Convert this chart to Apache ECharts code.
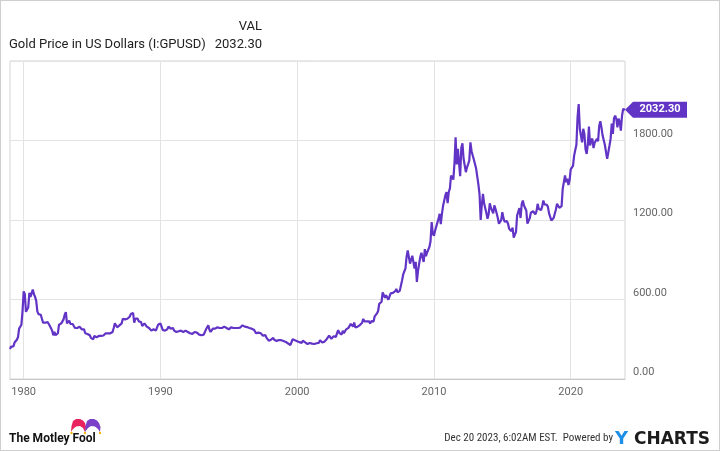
<!DOCTYPE html>
<html>
<head>
<meta charset="utf-8">
<script src="https://cdn.jsdelivr.net/npm/echarts@6/dist/echarts.min.js"></script>
<style>
html,body{margin:0;padding:0;background:#fff;}
#c{width:720px;height:451px;box-sizing:border-box;border:1px solid #cfcfcf;}
</style>
</head>
<body>
<div id="c"></div>
<script>
// Monthly gold price (USD/oz), one value per month starting Jan of the first year
const startYear = 1979;
const gold1979_1983 = [
  227,245,240,246,275,278,296,315,380,382,410,512,
  662,640,507,520,540,650,620,630,675,640,620,590,
  510,490,500,485,475,425,410,425,430,430,415,400,
  385,365,330,355,330,315,345,410,400,420,435,450,
  485,505,420,430,440,415,420,415,405,385,380,385
];
const gold1984_1988 = [
  370,395,395,375,385,375,345,350,340,335,330,310,
  305,299,325,320,315,320,325,335,325,325,328,327,
  345,340,345,345,345,345,355,385,420,405,390,395,
  405,405,420,455,460,450,460,455,460,470,490,490,
  499,425,455,450,455,435,435,430,400,410,420,410
];
const gold1989_1993 = [
  395,385,385,375,365,370,375,360,365,375,410,410,
  420,410,370,370,365,352,375,395,395,380,385,385,
  365,360,355,355,360,365,365,350,355,355,365,355,
  355,350,345,335,340,345,355,340,350,340,335,333,
  330,330,335,355,375,375,405,372,355,370,380,390
];
const gold1994_1998 = [
  380,382,390,375,385,385,385,385,395,385,385,383,
  375,375,390,390,385,385,385,385,385,383,388,387,
  405,400,395,392,392,383,385,388,380,380,372,368,
  345,360,350,342,345,335,326,326,332,312,298,289,
  303,297,300,310,294,296,288,273,294,292,293,288
];
const gold1999_2003 = [
  287,287,280,286,268,262,255,255,300,300,292,288,
  285,292,278,274,273,289,276,276,273,264,270,272,
  265,267,257,264,267,270,266,273,293,280,275,278,
  282,296,302,308,327,318,304,312,323,317,318,347,
  368,347,335,336,364,346,354,375,384,386,396,416
];
const gold2004_2008 = [
  402,396,427,388,394,395,391,407,415,425,454,435,
  422,435,427,435,418,437,429,433,473,470,495,513,
  568,556,582,654,643,613,633,623,599,604,646,632,
  650,665,663,680,655,650,665,672,743,789,783,834,
  923,971,984,871,885,930,918,833,884,733,815,870
];
const gold2009_2013 = [
  920,952,916,884,980,927,955,955,996,1040,1184,1100,
  1081,1119,1113,1180,1208,1247,1169,1246,1307,1346,1386,1410,
  1327,1411,1439,1536,1536,1505,1628,1824,1620,1737,1747,1531,
  1744,1779,1662,1651,1561,1598,1622,1648,1786,1719,1726,1657,
  1664,1588,1598,1469,1394,1200,1314,1398,1326,1324,1253,1210
];
const gold2014_2018 = [
  1244,1326,1291,1288,1250,1310,1285,1285,1217,1172,1175,1199,
  1259,1214,1187,1180,1191,1172,1134,1135,1115,1142,1067,1060,
  1111,1235,1233,1290,1215,1320,1347,1309,1322,1272,1173,1159,
  1212,1255,1245,1266,1268,1242,1267,1322,1283,1271,1275,1303,
  1347,1318,1325,1315,1299,1250,1224,1197,1187,1215,1222,1279
];
const gold2019_2023 = [
  1322,1316,1292,1284,1305,1436,1427,1536,1485,1511,1464,1498,
  1582,1585,1608,1686,1728,1768,1975,2075,1887,1880,1786,1888,
  1850,1734,1699,1769,1906,1763,1799,1815,1743,1783,1775,1812,
  1795,1909,1945,1897,1837,1824,1766,1711,1661,1649,1760,1812,
  1928,1850,1969,1987,1963,1899,1965,1940,1874,1984,2038
];
const lastDate = 2023.97;   // Dec 20 2023
const lastValue = 2032.30;

const xTickYears = [1980, 1990, 2000, 2010, 2020];

const allMonthly = [].concat(gold1979_1983, gold1984_1988, gold1989_1993, gold1994_1998,
  gold1999_2003, gold2004_2008, gold2009_2013, gold2014_2018, gold2019_2023);
const seriesData = allMonthly.map((v, i) => [startYear + i / 12, v]);
seriesData.push([lastDate, lastValue]);

const purple = '#6234c6';
const chart = echarts.init(document.getElementById('c'), null, {renderer: 'canvas'});
chart.setOption({
  animation: false,
  backgroundColor: '#fff',
  grid: {left: 9, top: 60, width: 615, height: 318, show: true, borderColor: '#d4d4d4', borderWidth: 1},
  xAxis: {
    type: 'value', min: startYear, max: lastDate,
    axisLine: {show: true, lineStyle: {color: '#c8c8c8', width: 1}},
    axisTick: {show: false, customValues: xTickYears},
    axisLabel: {customValues: xTickYears, color: '#666', fontSize: 11, fontFamily: 'Roboto', margin: 8,
      formatter: v => String(Math.round(v))},
    splitLine: {show: true, lineStyle: {color: '#e3e3e3', width: 1}}
  },
  yAxis: {
    type: 'value', position: 'right', min: 0, max: 2400, interval: 600,
    axisLine: {show: false}, axisTick: {show: false},
    axisLabel: {color: '#666', fontSize: 11, fontFamily: 'Roboto', margin: 8, showMaxLabel: false,
      verticalAlign: 'bottom', lineHeight: 13, formatter: v => v.toFixed(2)},
    splitLine: {show: true, lineStyle: {color: '#e3e3e3', width: 1}}
  },
  series: [{
    type: 'line', data: seriesData, showSymbol: false, symbol: 'none',
    lineStyle: {color: purple, width: 2.2}, clip: false,
    markPoint: {
      symbol: 'path://M0,8 L8,0 L62,0 L62,16 L8,16 Z',
      symbolSize: [62, 16], symbolOffset: [31, 0], silent: true,
      itemStyle: {color: purple},
      label: {show: true, color: '#fff', fontWeight: 'bold', fontSize: 11, fontFamily: 'Roboto',
        offset: [4, 0], formatter: p => p.value.toFixed(2)},
      data: [{coord: [lastDate, lastValue], value: lastValue}]
    }
  }],
  graphic: [
    {type: 'text', x: 261, y: 19, style: {text: 'VAL', fill: '#222', font: '13px Roboto', align: 'right'}},
    {type: 'text', x: 8, y: 37, style: {text: 'Gold Price in US Dollars (I:GPUSD)', fill: '#222', font: '13px Roboto'}},
    {type: 'text', x: 261, y: 37, style: {text: '2032.30', fill: '#222', font: '13px Roboto', align: 'right'}},
    {type: 'polygon', shape: {points: [[70,431],[70.5,425],[72,420],[75,418],[79,418],[82,419.5],[84,422],[85,426],[84,431],[82,427],[79,425],[75,425.5],[72,428]]}, style: {fill: '#e8235f'}},
    {type: 'polygon', shape: {points: [[84,431],[84.5,425],[86,420],[89,418],[93,418],[96,419.5],[98,422],[99.5,426],[99,431],[97,428],[94,425.5],[90,425],[87,427]]}, style: {fill: '#7b3fc8'}},
    {type: 'circle', shape: {cx: 70.5, cy: 432, r: 1.2}, style: {fill: '#f2b800'}},
    {type: 'circle', shape: {cx: 84, cy: 432, r: 1.2}, style: {fill: '#f2b800'}},
    {type: 'circle', shape: {cx: 99, cy: 432, r: 1.2}, style: {fill: '#f2b800'}},
    {type: 'text', x: 8, y: 432, style: {text: 'The Motley Fool', fill: '#111', font: 'bold 12px Roboto'}},
    {type: 'text', x: 612, y: 432, style: {text: 'Dec 20 2023, 6:02AM EST.  Powered by', fill: '#333', font: '11px "Liberation Sans Narrow", "Roboto Condensed", Roboto', align: 'right'}},
    {type: 'text', x: 614, y: 429, style: {text: 'Y', fill: '#1e8fe6', font: 'bold 18px "DejaVu Sans"'}},
    {type: 'text', x: 633, y: 430, style: {text: 'CHARTS', fill: '#1c1c1c', font: 'bold 17px "DejaVu Sans"'}}
  ]
});
</script>
</body>
</html>
